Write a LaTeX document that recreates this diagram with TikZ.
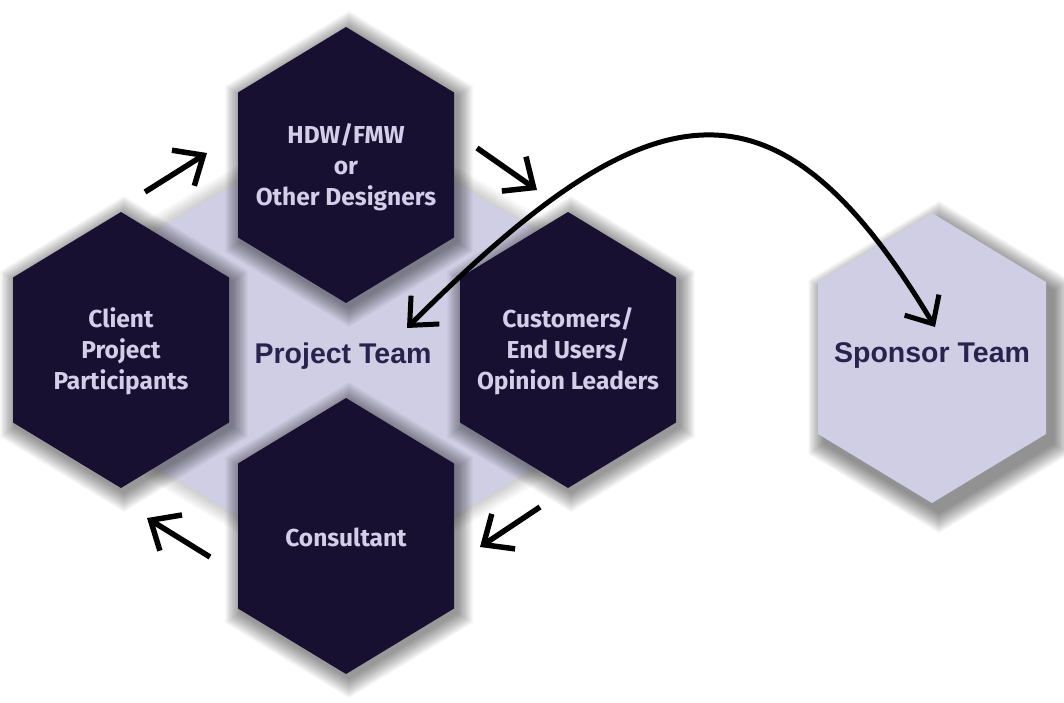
\documentclass[tikz,border=0pt]{standalone}
\usepackage{fontspec}
\setmainfont{Liberation Sans}
\newfontfamily\hexfont{Fira Sans}
\usetikzlibrary{arrows.meta}

\definecolor{hexdark}{RGB}{23,16,48}
\definecolor{hextext}{RGB}{212,206,232}
\definecolor{lavender}{RGB}{208,206,228}
\definecolor{teamtext}{RGB}{40,34,78}

% elongated pointy-top hexagon: half width, half height, half side, fill style,
% shadow layer opacity, shadow offset; the soft shadow is built from stacked translucent copies
\tikzset{
  pics/hexa/.style n args={6}{code={
    \foreach \k in {1,...,12}{
      \path[fill=black, fill opacity=#5, shift={(#6)}, scale={1+\k*0.012}]
        (0,-#2) -- (#1,-#3) -- (#1,#3) -- (0,#2) -- (-#1,#3) -- (-#1,-#3) -- cycle;
    }
    \path[#4] (0,-#2) -- (#1,-#3) -- (#1,#3) -- (0,#2) -- (-#1,#3) -- (-#1,-#3) -- cycle;
  }},
}

\begin{document}
\begin{tikzpicture}[x=1pt,y=-1pt,
  darkhex/.style={fill=hexdark},
  lighthex/.style={fill=lavender},
  backplate/.style={fill=lavender},
  hexlabel/.style={text=hextext, font=\hexfont\bfseries\fontsize{24.5}{31}\selectfont, align=center},
  teamlabel/.style={text=teamtext, font=\bfseries\fontsize{28.5}{34}\selectfont},
  flow/.style={line width=5.5pt, -{Straight Barb[length=24pt,width=42pt]}},
  swing/.style={line width=5pt, {Straight Barb[length=22pt,width=40pt]}-{Straight Barb[length=22pt,width=40pt]}},
]
\useasboundingbox[fill=white] (0,0) rectangle (1064,702);

% lavender plate behind the project team, with a faint shadow
\foreach \k in {1,...,6}{
  \path[fill=black, fill opacity=0.03, shift={(346,349)}, scale={1+\k*0.012}]
    (0,-232) -- (286,-60) -- (286,60) -- (0,232) -- (-286,60) -- (-286,-60) -- cycle;
}
\path[backplate] (346,117) -- (632,289) -- (632,409) -- (346,581) -- (60,409) -- (60,289) -- cycle;

% hexagons
\pic (hdwhex)  at (346,165) {hexa={108}{138}{72.5}{darkhex}{0.04}{3,4}};
\pic (clihex)  at (121,350) {hexa={108}{138}{72.5}{darkhex}{0.04}{3,4}};
\pic (custhex) at (568,350) {hexa={108}{138}{72.5}{darkhex}{0.04}{3,4}};
\pic (conshex) at (346,536) {hexa={108}{138}{72.5}{darkhex}{0.04}{3,4}};
\pic (sponhex) at (932,358) {hexa={114}{145}{76}{lighthex}{0.045}{7,9}};

% labels
\node[hexlabel] (hdw)  at (346,167) {HDW/FMW\\or\\Other Designers};
\node[hexlabel] (cli)  at (121,351) {Client\\Project\\Participants};
\node[hexlabel] (cust) at (568,351) {Customers/\\End Users/\\Opinion Leaders};
\node[hexlabel] (cons) at (346,537) {Consultant};
\node[teamlabel] (project) at (343,356) {Project Team};
\node[teamlabel] (sponsor) at (932,355) {Sponsor Team};

% arrow end points
\coordinate (a1s) at (145,192); \coordinate (a1e) at (207,153);
\coordinate (a2s) at (477,148); \coordinate (a2e) at (537,190);
\coordinate (a3s) at (540,507); \coordinate (a3e) at (480,547);
\coordinate (a4s) at (210,557); \coordinate (a4e) at (147,518);
\coordinate (ptTip) at (407,328);
\coordinate (spTip) at (935,327);

% circulation arrows around the team
\draw[flow] (a1s) -- (a1e);
\draw[flow] (a2s) -- (a2e);
\draw[flow] (a3s) -- (a3e);
\draw[flow] (a4s) -- (a4e);

% link between project team and sponsor team
\draw[swing] (ptTip) .. controls (650,85) and (775,60) .. (spTip);
\end{tikzpicture}
\end{document}
